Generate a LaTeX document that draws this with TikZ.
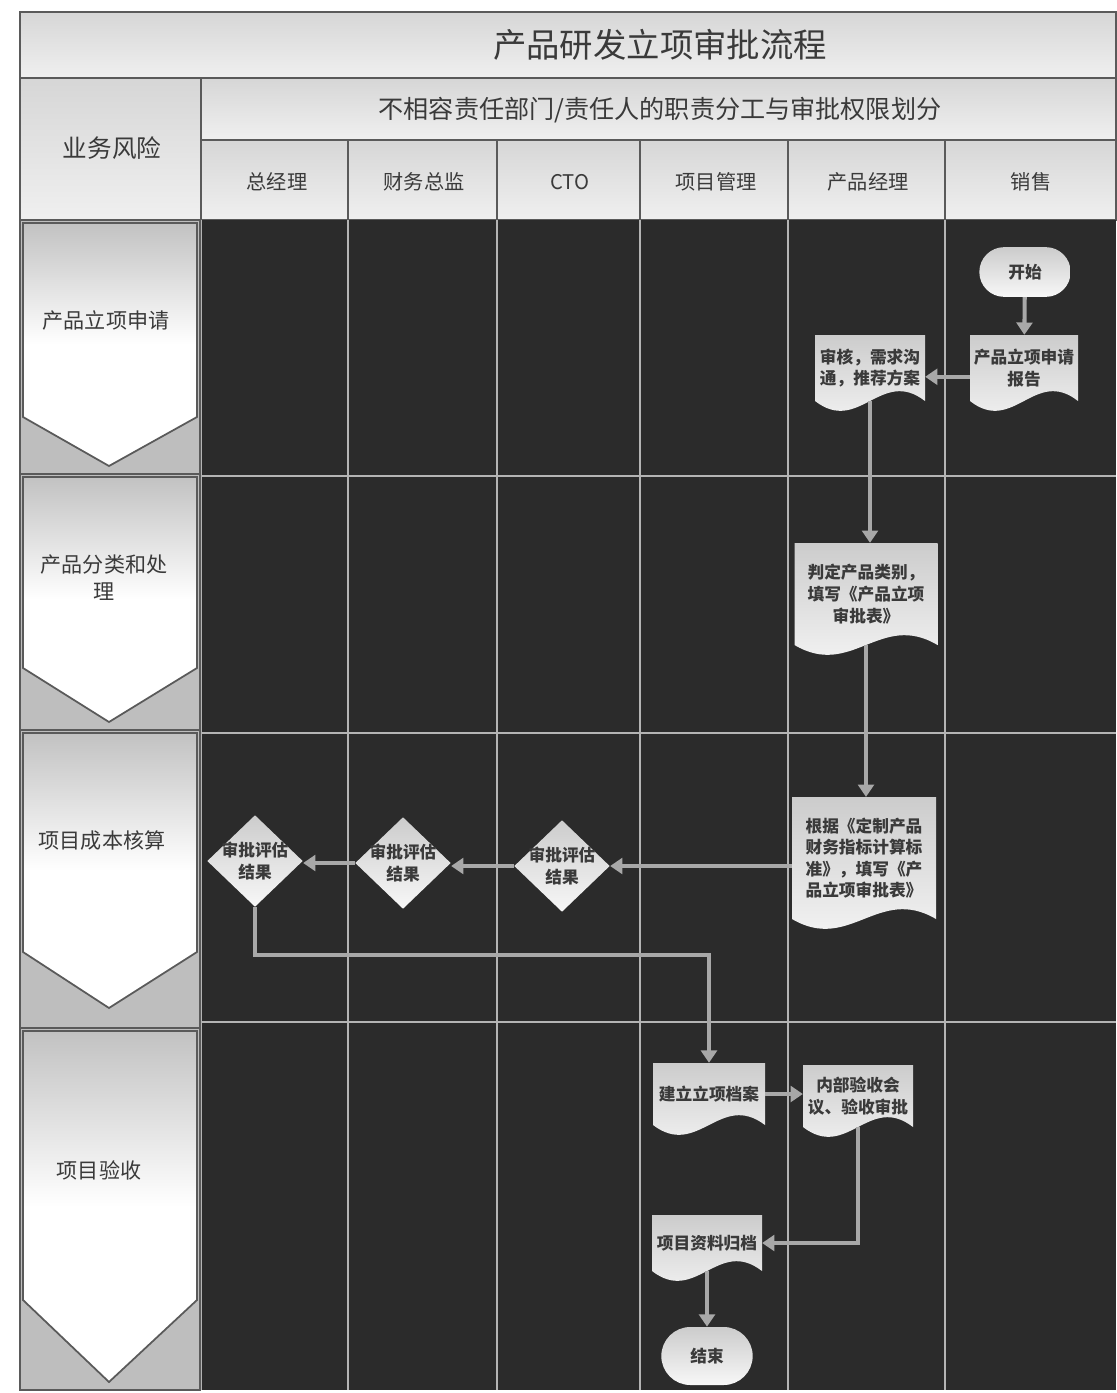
\documentclass[tikz,border=0pt]{standalone}
\usepackage{fontspec}
\setmainfont{Noto Sans CJK SC}
\usetikzlibrary{shapes.geometric,shapes.misc,arrows.meta,calc}

\definecolor{darkbg}{HTML}{2B2B2B}
\definecolor{gridln}{HTML}{B4B4B4}
\definecolor{hdrfill}{HTML}{E2E2E2}
\definecolor{frameln}{HTML}{5A5A5A}
\definecolor{txt}{HTML}{3A3A3A}
\definecolor{arrowc}{HTML}{A8A8A8}
\definecolor{cornerc}{HTML}{BEBEBE}

\tikzset{
  hdrcell/.style={top color=black!16, bottom color=black!6, draw=frameln, line width=1pt},
  hdrtext/.style={text=txt, font=\fontsize{11.5pt}{14pt}\selectfont},
  lanepent/.style={top color=black!24, bottom color=white, middle color=white, draw=frameln, line width=1pt},
  lanetext/.style={text=txt, font=\fontsize{12pt}{15.5pt}\selectfont, align=center},
  docshape/.style={top color=black!20, bottom color=black!3},
  doctext/.style={text=txt, font=\bfseries\fontsize{9.5pt}{12.3pt}\selectfont, align=center, inner sep=0pt},
  dia/.style={diamond, aspect=1, inner sep=0pt, minimum width=54.4pt, minimum height=52.2pt, top color=black!20, bottom color=black!3},
  term/.style={rounded rectangle, inner sep=0pt, minimum width=52pt, minimum height=28.3pt, top color=black!20, bottom color=black!3},
  flow/.style={draw=arrowc, line width=2.3pt, -{Triangle[width=9pt,length=7pt]}},
}

\newcommand\docnode[6]{%
  \path[docshape] ({#2-#4/2},{#3-#5/2}) -- ({#2+#4/2},{#3-#5/2}) -- ({#2+#4/2},{#3+#5/2})
     .. controls ({#2+#4*0.1},{#3+#5/2-34}) and ({#2-#4*0.1},{#3+#5/2+34}) .. ({#2-#4/2},{#3+#5/2}) -- cycle;
  \node[doctext, minimum width=#4*0.5669pt, minimum height=#5*0.5669pt] (#1) at (#2,#3) {#6};
}

\newcommand\lanecell[4]{%
  \fill[cornerc] (20,#1) rectangle (200,#2);
  \path[lanepent] (23,#1+3) -- (197,#1+3) -- (197,#3) -- (109,#4) -- (23,#3) -- cycle;
  \draw[frameln, line width=1pt] (20,#1) rectangle (200,#2);
}

\begin{document}
\begin{tikzpicture}[x=0.02cm,y=-0.02cm]
\useasboundingbox (0,0) rectangle (1116,1393);
\fill[white] (0,0) rectangle (1116,1393);

% header
\path[hdrcell] (20,12) rectangle (1116,78);
\path[hdrcell] (20,78) rectangle (201,220);
\path[hdrcell] (201,78) rectangle (1116,140);
\foreach \a/\b in {201/348,348/497,497/640,640/788,788/945,945/1116}
  \path[hdrcell] (\a,140) rectangle (\b,220);

\node[text=txt, font=\fontsize{19pt}{22pt}\selectfont] (title) at (660,45) {产品研发立项审批流程};
\node[text=txt, font=\fontsize{14pt}{17pt}\selectfont] (risk) at (112,148) {业务风险};
\node[text=txt, font=\fontsize{14.3pt}{17pt}\selectfont] (sub) at (660,110) {不相容责任部门/责任人的职责分工与审批权限划分};
\node[hdrtext] (h1) at (277,182) {总经理};
\node[hdrtext] (h2) at (424,182) {财务总监};
\node[hdrtext] (h3) at (570,182) {CTO};
\node[hdrtext] (h4) at (716,182) {项目管理};
\node[hdrtext] (h5) at (868,182) {产品经理};
\node[hdrtext] (h6) at (1031,182) {销售};

% dark swimlane area
\fill[darkbg] (201,220) rectangle (1116,1390);
\foreach \x in {201,348,497,640,788,945}
  \draw[gridln, line width=1.1pt] (\x,220) -- (\x,1390);
\foreach \y in {476,733,1022}
  \draw[gridln, line width=1.1pt] (201,\y) -- (1116,\y);

% left lane cells
\lanecell{220}{474}{417}{466}
\lanecell{474}{730}{668}{722}
\lanecell{730}{1028}{952}{1008}
\lanecell{1028}{1390}{1300}{1382}
\node[lanetext] (l1) at (106,320) {产品立项申请};
\node[lanetext] (l2) at (104,578) {产品分类和处\\理};
\node[lanetext] (l3) at (102,840) {项目成本核算};
\node[lanetext] (l4) at (99,1170) {项目验收};

% flow nodes
\node[term, doctext] (start) at (1025,272) {开始};
\docnode{rep}{1024}{368}{108}{66}{产品立项申请\\报告}
\docnode{rev}{870}{368}{110}{66}{审核，需求沟\\通，推荐方案}
\docnode{cls}{866}{594}{143}{102}{判定产品类别，\\填写《产品立项\\审批表》}
\docnode{cost}{864}{858}{144}{122}{根据《定制产品\\财务指标计算标\\准》，填写《产\\品立项审批表》}
\node[dia] (d3) at (562,866) {};
\node[doctext] (d3t) at (d3) {审批评估\\结果};
\node[dia] (d2) at (403,863) {};
\node[doctext] (d2t) at (d2) {审批评估\\结果};
\node[dia] (d1) at (255,861) {};
\node[doctext] (d1t) at (d1) {审批评估\\结果};
\docnode{arch}{709}{1094}{112}{62}{建立立项档案}
\docnode{acc}{858}{1096}{110}{62}{内部验收会\\议、验收审批}
\docnode{file}{707}{1243}{110}{56}{项目资料归档}
\node[term, doctext, minimum height=33pt] (end) at (707,1356) {结束};

\coordinate (bend) at (709,955);

% connectors
\draw[flow] (start) -- (rep);
\draw[flow] ([yshift=-5pt]rep.west) -- ([yshift=-5pt]rev.east);
\draw[flow] (rev.south) -- (rev.south |- cls.north);
\draw[flow] (cls.south) -- (cls.south |- cost.north);
\draw[flow] (d3 -| cost.west) -- (d3.east);
\draw[flow] (d3.west) -- (d3.west -| d2.east);
\draw[flow] (d2.west) -- (d2.west -| d1.east);
\draw[flow] (d1.south) |- (bend) -- (arch.north);
\draw[flow] (arch.east) -- (arch.east -| acc.west);
\draw[flow] (acc.south) |- (file.east);
\draw[flow] (file.south) -- (end.north);
\end{tikzpicture}
\end{document}
